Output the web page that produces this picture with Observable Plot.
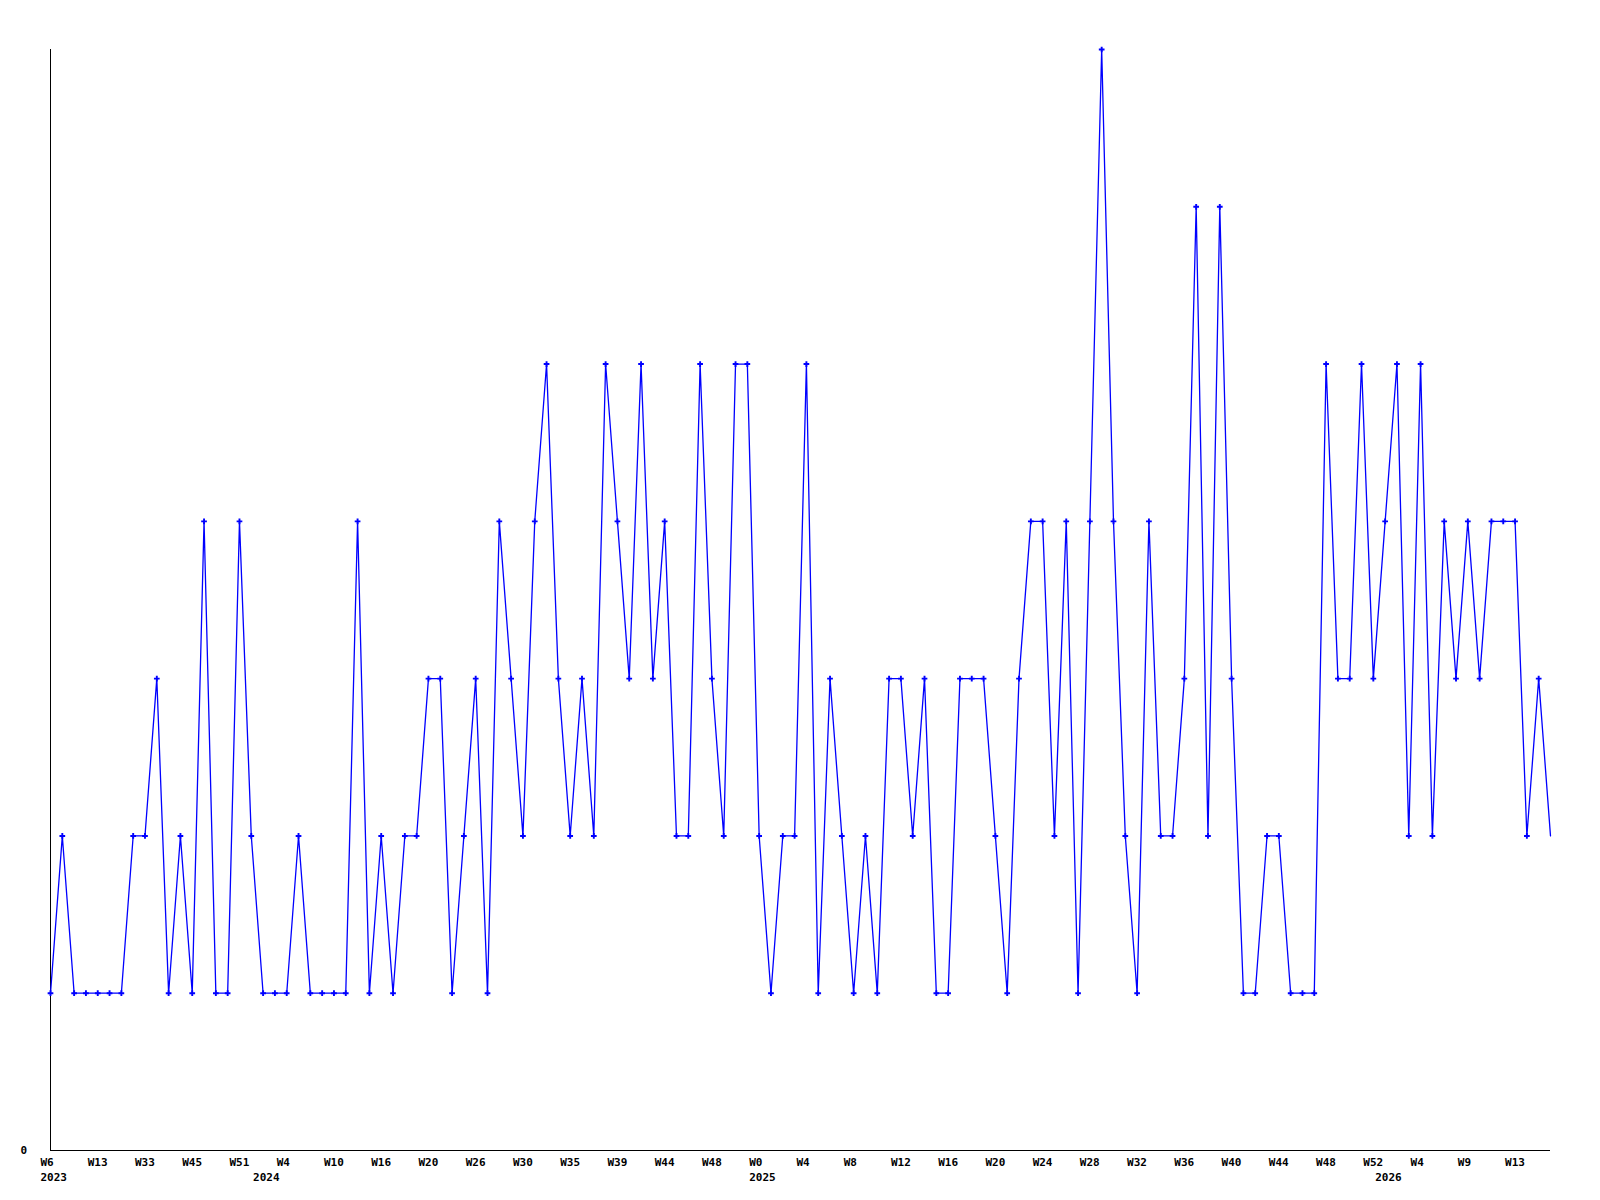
<!DOCTYPE html>
<html>
<head>
<meta charset="utf-8">
<script src="https://cdn.jsdelivr.net/npm/d3@7"></script>
<script src="https://cdn.jsdelivr.net/npm/@observablehq/plot@0.6"></script>
<style>
  html, body { margin: 0; padding: 0; background: #ffffff; }
  #chart svg { display: block; }
</style>
</head>
<body>
<div id="chart"></div>
<script>
// Week numbers per year (x categories)
const years = [2023, 2024, 2025, 2026];
const weeks2023 = [6,7,9,11,13,16,22,28,33,36,39,42,45,46,48,50,51,52];
const weeks2024 = [1,3,4,6,7,9,10,12,13,15,16,17,18,19,20,22,24,25,26,27,28,29,30,31,33,34,35,36,37,38,39,41,42,43,44,45,46,47,48,49,50,52];
const weeks2025 = [0,1,2,3,4,5,6,7,8,9,10,11,12,13,14,15,16,17,18,19,20,21,22,23,24,25,26,27,28,29,30,31,32,33,34,35,36,37,38,39,40,41,42,43,44,45,46,47,48,49,50,51,52];
const weeks2026 = [1,2,3,4,5,6,8,9,10,11,12,13,14,15,16];

// Series values per year
const counts2023 = [1,2,1,1,1,1,1,2,2,3,1,2,1,4,1,1,4,2];
const counts2024 = [1,1,1,2,1,1,1,1,4,1,2,1,2,2,3,3,1,2,3,1,4,3,2,4,5,3,2,3,2,5,4,3,5,3,4,2,2,5,3,2,5,5];
const counts2025 = [2,1,2,2,5,1,3,2,1,2,1,3,3,2,3,1,1,3,3,3,2,1,3,4,4,2,4,1,4,7,4,2,1,4,2,2,3,6,2,6,3,1,1,2,2,1,1,1,5,3,3,5,3];
const counts2026 = [4,5,2,5,2,4,3,4,3,4,4,4,2,3,2];

const yTickValues = [0];
const tickEvery = 4;

// Build table
const weekLists = [weeks2023, weeks2024, weeks2025, weeks2026];
const countLists = [counts2023, counts2024, counts2025, counts2026];
const data = [];
years.forEach((yr, k) => {
  weekLists[k].forEach((w, j) => {
    data.push({i: data.length, year: yr, week: w, label: "W" + w, value: countLists[k][j], first: j === 0});
  });
});
const lastIndex = data.length - 1;
const tickRows = data.filter(d => d.i % tickEvery === 0);
const yearRows = data.filter(d => d.first);
const dotRows = data.filter(d => d.i !== lastIndex);

const font = "'DejaVu Sans Mono', 'Liberation Mono', monospace";

const chart = Plot.plot({
  width: 1600,
  height: 1200,
  marginLeft: 50,
  marginRight: 50,
  marginTop: 49,
  marginBottom: 50,
  style: {fontFamily: font, fontSize: "11px", fontWeight: "bold", background: "#ffffff", color: "#000"},
  x: {type: "linear", domain: [0, lastIndex], axis: null},
  y: {type: "linear", domain: [0, 7], axis: null},
  marks: [
    Plot.ruleX([0], {x: d => d, y1: 0, y2: 7, stroke: "#000", strokeWidth: 1, shapeRendering: "crispEdges"}),
    Plot.ruleY([0], {y: d => d, x1: 0, x2: lastIndex, stroke: "#000", strokeWidth: 1, shapeRendering: "crispEdges"}),
    Plot.line(data, {x: "i", y: "value", stroke: "#0000ff", strokeWidth: 1.3, curve: "linear"}),
    Plot.dot(dotRows, {x: "i", y: "value", symbol: "cross", r: 2.4, fill: "#0000ff", stroke: "none"}),
    Plot.text(yTickValues, {x: 0, y: d => d, text: d => String(d), textAnchor: "start", dx: -30, fill: "#000", fontWeight: "bold"}),
    Plot.text(tickRows, {x: "i", y: 0, text: "label", textAnchor: "start", dx: -10, dy: 12, fill: "#000", fontWeight: "bold"}),
    Plot.text(yearRows, {x: "i", y: 0, text: d => String(d.year), textAnchor: "start", dx: -10, dy: 27, fill: "#000", fontWeight: "bold"})
  ]
});
document.getElementById("chart").appendChild(chart);
</script>
</body>
</html>
